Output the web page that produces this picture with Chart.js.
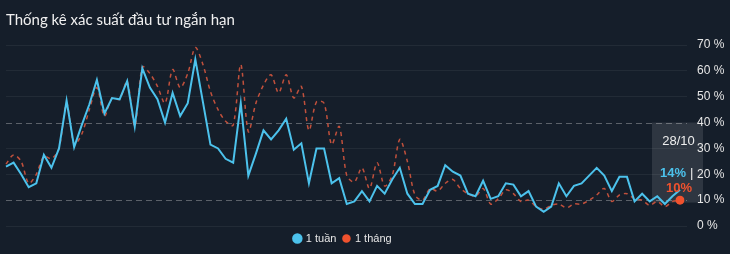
<!DOCTYPE html>
<html>
<head>
<meta charset="utf-8">
<script src="https://cdn.jsdelivr.net/npm/chart.js@4"></script>
<style>
html,body{margin:0;padding:0;background:#151e2a;}
#wrap{width:730px;height:254px;}
</style>
</head>
<body>
<div id="wrap"><canvas id="probChart" width="730" height="254"></canvas></div>
<script>
// trading days 27/06 -> 28/10
const labels=["27/06","28/06","29/06","30/06","01/07",
"04/07","05/07","06/07","07/07","08/07","11/07","12/07","13/07","14/07","15/07",
"18/07","19/07","20/07","21/07","22/07","25/07","26/07","27/07","28/07","29/07",
"01/08","02/08","03/08","04/08","05/08","08/08","09/08","10/08","11/08","12/08",
"15/08","16/08","17/08","18/08","19/08","22/08","23/08","24/08","25/08","26/08",
"29/08","30/08","31/08","01/09","02/09","05/09","06/09","07/09","08/09","09/09",
"12/09","13/09","14/09","15/09","16/09","19/09","20/09","21/09","22/09","23/09",
"26/09","27/09","28/09","29/09","30/09","03/10","04/10","05/10","06/10","07/10",
"10/10","11/10","12/10","13/10","14/10","17/10","18/10","19/10","20/10","21/10",
"24/10","25/10","26/10","27/10","28/10"];

const week=[23,24.5,20,15,16.5,27.5,22.5,30,48.5,30.5,
39,47,56.5,43.5,49.5,49,56,38.5,61,53.5,
49,40,51.5,42.5,47.5,64.5,48,31.5,30,26,
24.5,47.5,19.5,28,37,33.5,37,41.5,29.5,32,
16.5,30,30,16.5,18.5,8.5,9.5,13.5,9.5,15.5,
12.5,18,22.5,12.5,8.5,8.5,14,15.5,23.5,21,
19.5,12.5,11.5,17.5,10.5,11.5,16.5,16,11.5,13.5,
7.5,5.5,7.5,16.5,11.5,15.5,16.5,19.5,22.5,19.5,
13.5,19,19,9.5,12.5,9.5,11.5,8.5,11.5,14];

const month=[24,27.5,25,16.5,20,27,26,30,47.5,31.5,
35.5,45,53.5,42.5,49.5,49,56,38.5,61.5,59,
54,47.5,60.5,53.5,59,69,62.5,52,45,40.5,
39,62.5,36.5,47.5,54.5,58.5,51.5,58.5,49.5,54,
37,48,47.5,31.5,38.5,19.5,17,22.5,14.5,24.5,
15.5,19.5,33.5,25,12,10,14.5,13.5,16.5,18,
14.5,12.5,11.5,14.5,8.5,10.5,14,12.5,9.5,10,
7.5,6.5,8,8.5,7,8.5,8.5,10,12,14.5,
9.5,12,12.5,10.5,10,8,9.5,7.5,9.5,10];

const yTicks=[0,10,20,30,40,50,60,70];
const refLines=[10,40];

const BLUE="#4cc2ec";
const RED="#f0522e";
const RED_LINE="#c0503c";

const last=labels.length-1;

const overlay={
  id:"overlay",
  beforeDatasetsDraw(chart){
    const {ctx,chartArea,scales:{x,y}}=chart;
    ctx.save();
    ctx.strokeStyle="#5b6169";
    ctx.lineWidth=1;
    ctx.setLineDash([6,4]);
    refLines.forEach(v=>{
      const py=Math.round(y.getPixelForValue(v))+0.5;
      ctx.beginPath();ctx.moveTo(chartArea.left,py);ctx.lineTo(chartArea.right+7,py);ctx.stroke();
    });
    ctx.setLineDash([]);
    // tooltip box
    const px=x.getPixelForValue(last);
    const top=y.getPixelForValue(40);
    ctx.fillStyle="rgba(255,255,255,0.11)";
    ctx.fillRect(px-28,top,51,80);
    ctx.restore();
  },
  afterDraw(chart){
    const {ctx,scales:{x,y}}=chart;
    const px=x.getPixelForValue(last);
    ctx.save();
    ctx.textBaseline="middle";
    ctx.font="13px 'Liberation Sans', Arial, sans-serif";
    ctx.fillStyle="#eeeeee";
    ctx.textAlign="center";
    ctx.fillText(labels[last].replace(/^0/,""),px-1.5,y.getPixelForValue(32.8));
    ctx.font="bold 13px 'Liberation Sans', Arial, sans-serif";
    ctx.textAlign="right";
    ctx.fillStyle=BLUE;
    ctx.fillText(week[last]+"%",px+6,y.getPixelForValue(20.2));
    ctx.fillStyle="#eeeeee";
    ctx.font="13px 'Liberation Sans', Arial, sans-serif";
    ctx.textAlign="left";
    ctx.fillText("|",px+10,y.getPixelForValue(20.2));
    ctx.font="bold 13px 'Liberation Sans', Arial, sans-serif";
    ctx.textAlign="center";
    ctx.fillStyle=RED;
    ctx.fillText(month[last]+"%",px-1,y.getPixelForValue(month[last])-12);
    ctx.restore();
  }
};

new Chart(document.getElementById("probChart"),{
  type:"line",
  data:{
    labels:labels,
    datasets:[
      {label:"1 tuần",data:week,borderColor:BLUE,backgroundColor:BLUE,borderWidth:2,
       pointRadius:0,pointHoverRadius:0,tension:0},
      {label:"1 tháng",data:month,borderColor:RED_LINE,backgroundColor:RED,borderWidth:1.5,
       borderDash:[4,4],tension:0.3,
       pointRadius:labels.map((l,i)=>i===last?4.5:0),pointBorderWidth:0,
       pointBackgroundColor:RED,pointBorderColor:RED}
    ]
  },
  options:{
    responsive:false,
    animation:false,
    layout:{padding:{left:6,right:0,top:4,bottom:0}},
    plugins:{
      title:{display:true,text:"Thống kê xác suất đầu tư ngắn hạn",align:"start",color:"#f0f0f0",
        font:{family:"Lato, 'Open Sans', sans-serif",size:15,weight:"normal"},padding:{top:7,bottom:16}},
      legend:{position:"bottom",fullSize:false,labels:{color:"#e6e6e6",usePointStyle:true,pointStyle:"circle",
        boxWidth:6,boxHeight:6,padding:7,font:{family:"'Liberation Sans', Arial, sans-serif",size:11}}},
      tooltip:{enabled:false}
    },
    scales:{
      x:{display:false},
      y:{position:"right",min:0,max:70,
        afterBuildTicks:s=>{s.ticks=yTicks.map(v=>({value:v}));},
        afterFit:s=>{s.width=50;},
        border:{display:false},
        grid:{drawTicks:true,tickLength:7,
          color:c=>refLines.includes(c.tick.value)?"rgba(0,0,0,0)":"rgba(255,255,255,0.06)"},
        ticks:{padding:10,color:"#e6e6e6",font:{family:"'Liberation Sans', Arial, sans-serif",size:12},
          callback:v=>v+" %"}}
    }
  },
  plugins:[overlay]
});
</script>
</body>
</html>
